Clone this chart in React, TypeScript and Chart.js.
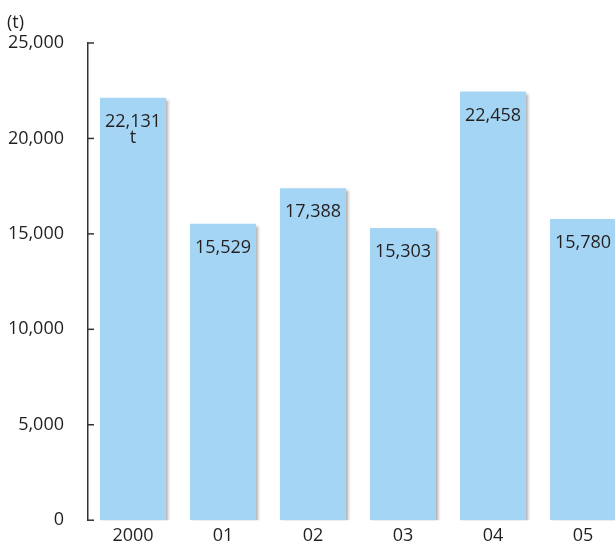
import React, { useEffect, useRef } from "react";
import { Chart, registerables } from "chart.js";

Chart.register(...registerables);

const categories = ["2000", "01", "02", "03", "04", "05"];
const values = [22131, 15529, 17388, 15303, 22458, 15780];
const unitLines = ["t", "", "", "", "", ""];
const yTicks = [0, 5000, 10000, 15000, 20000, 25000];
const unitLabel = "(t)";

const FONT = "'Open Sans', 'Noto Sans', sans-serif";

const fmt = (v: number) => v.toLocaleString("en-US");

export default function App() {
  const ref = useRef<HTMLCanvasElement | null>(null);

  useEffect(() => {
    document.body.style.margin = "0";
    if (!ref.current) return;

    const shadowPlugin = {
      id: "barShadow",
      beforeDatasetsDraw(chart: any) {
        const ctx = chart.ctx;
        ctx.save();
        ctx.shadowColor = "rgba(0,0,0,0.35)";
        ctx.shadowBlur = 3;
        ctx.shadowOffsetX = 2;
        ctx.shadowOffsetY = 2;
      },
      afterDatasetsDraw(chart: any) {
        chart.ctx.restore();
      },
    };

    const decoPlugin = {
      id: "deco",
      afterDraw(chart: any) {
        const ctx = chart.ctx;
        const y = chart.scales.y;
        const left = chart.chartArea.left;
        ctx.save();
        ctx.strokeStyle = "#333";
        ctx.lineWidth = 1.5;
        yTicks.forEach((t) => {
          const py = y.getPixelForValue(t);
          ctx.beginPath();
          ctx.moveTo(left, py);
          ctx.lineTo(left + 6, py);
          ctx.stroke();
        });
        ctx.fillStyle = "#231f20";
        ctx.font = `18px ${FONT}`;
        ctx.textAlign = "left";
        ctx.textBaseline = "middle";
        ctx.fillText(unitLabel, 7, 23);
        const meta = chart.getDatasetMeta(0);
        ctx.textAlign = "center";
        meta.data.forEach((bar: any, i: number) => {
          const ty = bar.y + 24;
          ctx.fillText(fmt(values[i]), bar.x, ty);
          if (unitLines[i]) ctx.fillText(unitLines[i], bar.x, ty + 16);
        });
        ctx.restore();
      },
    };

    const chart = new Chart(ref.current, {
      type: "bar",
      data: {
        labels: categories,
        datasets: [
          {
            data: values,
            backgroundColor: "#a5d5f5",
            borderWidth: 0,
            barPercentage: 0.733,
            categoryPercentage: 1,
          },
        ],
      },
      options: {
        animation: false,
        responsive: false,
        maintainAspectRatio: false,
        layout: { padding: { top: 43, right: 0, left: 0, bottom: 0 } },
        plugins: {
          legend: { display: false },
          tooltip: { enabled: false },
        },
        scales: {
          x: {
            grid: { display: false, drawTicks: false },
            border: { display: false },
            ticks: {
              color: "#231f20",
              font: { family: FONT, size: 18 },
              padding: 5,
              maxRotation: 0,
            },
            afterFit: (s: any) => {
              s.height = 25;
            },
          },
          y: {
            min: 0,
            max: 25000,
            afterBuildTicks: (s: any) => {
              s.ticks = yTicks.map((v) => ({ value: v }));
            },
            grid: { display: false, drawTicks: false },
            border: { display: true, color: "#333", width: 1.5 },
            ticks: {
              color: "#231f20",
              font: { family: FONT, size: 18 },
              padding: 24,
              callback: (v: any) => fmt(Number(v)),
            },
            afterFit: (s: any) => {
              s.width = 88;
            },
          },
        },
      },
      plugins: [shadowPlugin, decoPlugin],
    });

    return () => chart.destroy();
  }, []);

  return (
    <div style={{ width: 615, height: 545, overflow: "hidden", position: "relative" }}>
      <canvas ref={ref} width={628} height={555} style={{ display: "block", width: 628, height: 555 }} />
    </div>
  );
}
